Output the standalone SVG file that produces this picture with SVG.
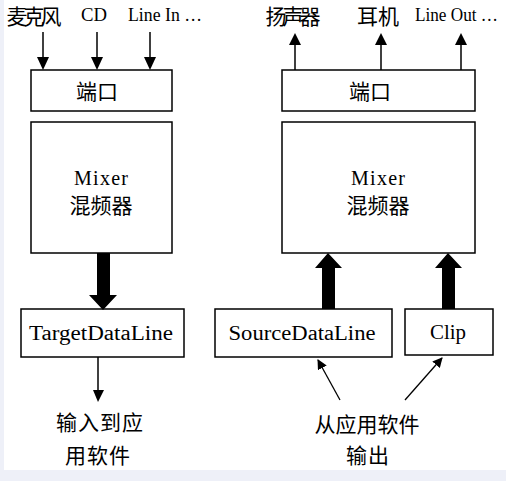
<svg xmlns="http://www.w3.org/2000/svg" width="506" height="481" viewBox="0 0 506 481">
<style>
.box{fill:#fff;stroke:#000;stroke-width:1.5}
.lat{font-family:"Liberation Serif",serif;fill:#000}
.cjk{font-family:"Noto Sans CJK SC","Noto Sans CJK JP",sans-serif;fill:#000;font-size:21px}
.thin{stroke:#000;stroke-width:1.5;fill:none}
.head{fill:#000}
</style>
<defs>
<marker id="ah" markerWidth="10" markerHeight="10" refX="9" refY="5" orient="auto" markerUnits="userSpaceOnUse" viewBox="0 0 10 10">
<path d="M0,0 L10,5 L0,10 Z" fill="#000"/>
</marker>
</defs>
<rect x="0" y="0" width="506" height="481" fill="#fff"/>
<rect x="0" y="0" width="4" height="481" fill="#eef0f8"/>
<rect x="0" y="470" width="506" height="11" fill="#eef0f8"/>

<g id="labels-top">
<text class="cjk" x="34" y="24" text-anchor="middle" font-size="18" textLength="55">麦克风</text>
<text class="lat" x="81" y="21" font-size="19" textLength="26" lengthAdjust="spacingAndGlyphs">CD</text>
<text class="lat" x="128" y="21" font-size="19" textLength="74" lengthAdjust="spacingAndGlyphs">Line In …</text>
<text class="cjk" x="293" y="24" text-anchor="middle" font-size="18" textLength="55">扬声器</text>
<text class="cjk" x="378" y="24" text-anchor="middle" font-size="18">耳机</text>
<text class="lat" x="415" y="21" font-size="19" textLength="83" lengthAdjust="spacingAndGlyphs">Line Out …</text>
</g>

<g id="port-in">
<rect class="box" x="31" y="70" width="141" height="41"/>
<text class="cjk" x="97" y="99" text-anchor="middle">端口</text>
</g>
<g id="mixer-in">
<rect class="box" x="31" y="122" width="141" height="131"/>
<text class="lat" x="101" y="185" text-anchor="middle" font-size="20" textLength="54">Mixer</text>
<text class="cjk" x="101" y="213" text-anchor="middle" font-size="22">混频器</text>
</g>
<g id="target">
<rect class="box" x="21" y="309" width="163" height="48"/>
<text class="lat" x="101" y="340" text-anchor="middle" font-size="20" textLength="144" lengthAdjust="spacingAndGlyphs">TargetDataLine</text>
</g>
<g id="out-text">
<text class="cjk" x="100" y="430" text-anchor="middle" font-size="22" letter-spacing="1">输入到应</text>
<text class="cjk" x="98" y="463" text-anchor="middle" font-size="22" letter-spacing="1">用软件</text>
</g>

<g id="port-out">
<rect class="box" x="282" y="70" width="193" height="41"/>
<text class="cjk" x="370" y="99" text-anchor="middle">端口</text>
</g>
<g id="mixer-out">
<rect class="box" x="282" y="122" width="193" height="131"/>
<text class="lat" x="378" y="185" text-anchor="middle" font-size="20" textLength="54">Mixer</text>
<text class="cjk" x="378" y="213" text-anchor="middle" font-size="22">混频器</text>
</g>
<g id="source">
<rect class="box" x="215" y="309" width="177" height="48"/>
<text class="lat" x="302" y="340" text-anchor="middle" font-size="20" textLength="147" lengthAdjust="spacingAndGlyphs">SourceDataLine</text>
</g>
<g id="clip">
<rect class="box" x="405" y="309" width="88" height="46"/>
<text class="lat" x="448" y="339" text-anchor="middle" font-size="20" textLength="36" lengthAdjust="spacingAndGlyphs">Clip</text>
</g>
<g id="in-text">
<text class="cjk" x="367" y="432" text-anchor="middle" font-size="22">从应用软件</text>
<text class="cjk" x="368" y="463" text-anchor="middle" font-size="22" letter-spacing="1">输出</text>
</g>

<g id="connectors">
<line class="thin" x1="43" y1="32" x2="43" y2="58"/>
<polygon class="head" points="37,57 49,57 43,70"/>
<line class="thin" x1="97" y1="32" x2="97" y2="58"/>
<polygon class="head" points="91,57 103,57 97,70"/>
<line class="thin" x1="150" y1="32" x2="150" y2="58"/>
<polygon class="head" points="144,57 156,57 150,70"/>

<line class="thin" x1="295" y1="44" x2="295" y2="70"/>
<polygon class="head" points="289,45 301,45 295,33"/>
<line class="thin" x1="381" y1="44" x2="381" y2="70"/>
<polygon class="head" points="375,45 387,45 381,33"/>
<line class="thin" x1="461" y1="44" x2="461" y2="70"/>
<polygon class="head" points="455,45 467,45 461,33"/>

<polygon class="head" points="97,253 110,253 110,295 117,295 103,310 89,295 97,295"/>
<polygon class="head" points="328,253 342,268 335,268 335,309 322,309 322,268 315,268"/>
<polygon class="head" points="448,253 462,268 455,268 455,309 442,309 442,268 435,268"/>

<line class="thin" x1="98" y1="357" x2="98" y2="391"/>
<polygon class="head" points="93,390 104,390 98,402"/>
<line x1="340" y1="400" x2="318" y2="360" stroke="#000" stroke-width="1.3" marker-end="url(#ah)"/>
<line x1="405" y1="400" x2="442" y2="358" stroke="#000" stroke-width="1.3" marker-end="url(#ah)"/>
</g>
</svg>
